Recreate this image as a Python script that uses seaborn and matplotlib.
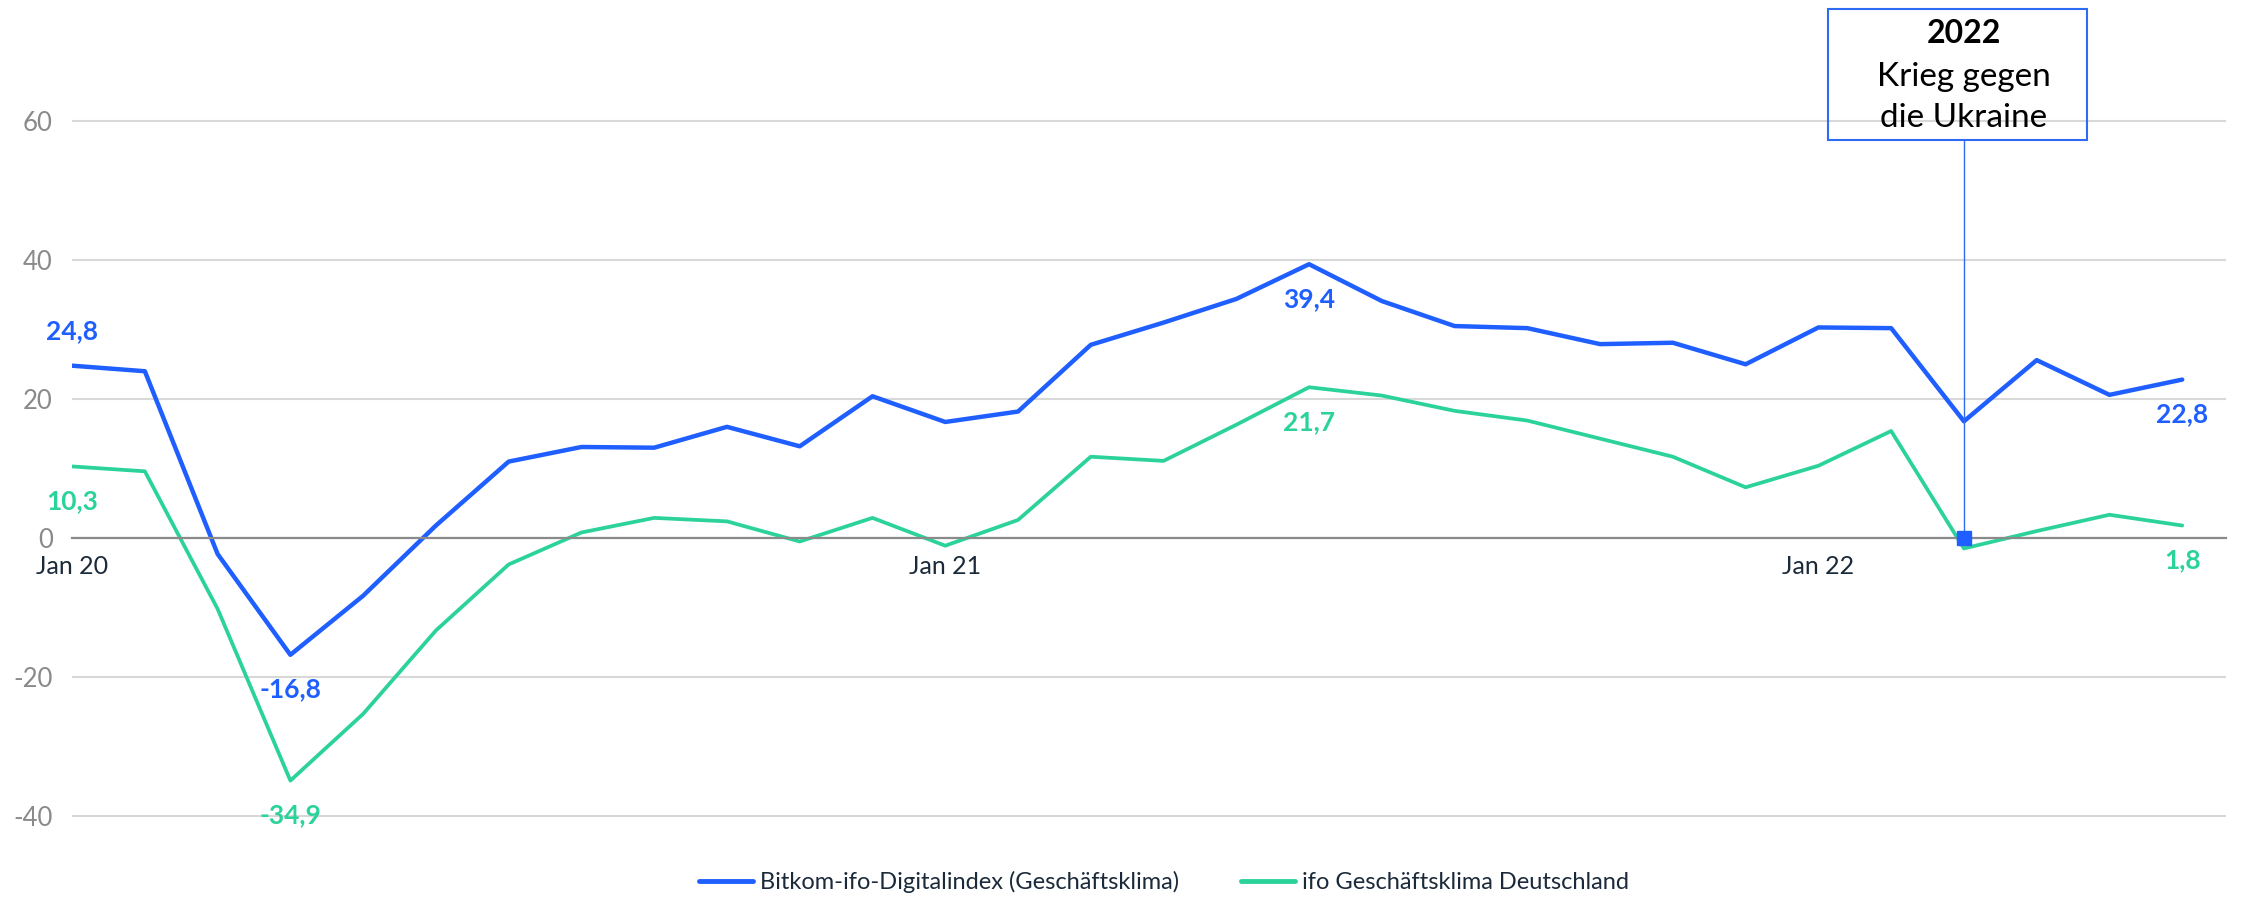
import matplotlib
matplotlib.use("Agg")
import matplotlib.pyplot as plt
import numpy as np
import pandas as pd
import seaborn as sns

# monthly values Jan 2020 - Jun 2022
months = pd.date_range("2020-01-01", periods=30, freq="MS")
bitkom = [24.8, 24.0, -2.3, -16.8, -8.3, 1.8, 11.0, 13.1, 13.0, 16.0,
          13.2, 20.4, 16.7, 18.2, 27.8, 31.0, 34.4, 39.4, 34.1, 30.5,
          30.2, 27.9, 28.1, 25.0, 30.3, 30.2, 16.8, 25.6, 20.6, 22.8]
ifo = [10.3, 9.6, -10.2, -34.9, -25.3, -13.3, -3.8, 0.8, 2.9, 2.4,
       -0.5, 2.9, -1.1, 2.6, 11.7, 11.1, 16.3, 21.7, 20.5, 18.3,
       16.9, 14.3, 11.7, 7.3, 10.4, 15.4, -1.5, 1.0, 3.35, 1.8]
series_names = ["Bitkom-ifo-Digitalindex (Geschäftsklima)", "ifo Geschäftsklima Deutschland"]
colors = ["#1f5fff", "#2bd39a"]
yticks = [-40, -20, 0, 20, 40, 60]
xtick_idx = [0, 12, 24]
xtick_labels = ["Jan 20", "Jan 21", "Jan 22"]

# labelled points: (index, offset direction)
labels_bitkom = [(0, 1), (3, -1), (17, -1), (29, -1)]
labels_ifo = [(0, -1), (3, -1), (17, -1), (29, -1)]

event_idx = 26
event_title = "2022"
event_lines = ["Krieg gegen", "die Ukraine"]

df = pd.DataFrame({
    "t": list(range(len(months))) * 2,
    "value": bitkom + ifo,
    "series": [series_names[0]] * len(bitkom) + [series_names[1]] * len(ifo),
})

sns.set_style("white")
plt.rcParams["font.family"] = ["Lato", "DejaVu Sans"]

fig = plt.figure(figsize=(22.6, 8.97), dpi=100)
ax = fig.add_axes([0.0319, 0.0515, 0.953, 0.9298])

sns.lineplot(data=df, x="t", y="value", hue="series", palette=colors,
             ax=ax, legend=False, linewidth=2.6)
ax.lines[0].set_linewidth(3.2)
ax.lines[1].set_linewidth(2.7)

ax.set_xlim(0, 29.6)
ax.set_ylim(-45, 75)
ax.set_yticks(yticks)
ax.set_yticklabels([str(v) for v in yticks])
ax.set_xticks(xtick_idx)
ax.set_xticklabels(xtick_labels)
ax.set_xlabel("")
ax.set_ylabel("")
ax.grid(axis="y", color="#d8d8d8", linewidth=1.5)
ax.set_axisbelow(True)
for s in ["top", "right", "left"]:
    ax.spines[s].set_visible(False)
ax.spines["bottom"].set_position(("data", 0))
ax.spines["bottom"].set_color("#8a8a8a")
ax.spines["bottom"].set_linewidth(1.6)
ax.tick_params(axis="y", length=0, pad=14, labelsize=18.5, labelcolor="#8a8a8a")
ax.tick_params(axis="x", length=7, width=1.2, color="#8a8a8a", pad=5,
               labelsize=18, labelcolor="#1b2a3a")

for data, lab, col in [(bitkom, labels_bitkom, colors[0]), (ifo, labels_ifo, colors[1])]:
    for i, d in lab:
        ax.annotate(f"{data[i]:.1f}".replace(".", ","), (i, data[i]),
                    xytext=(0, 25 * d), textcoords="offset points",
                    ha="center", va="center", fontsize=19, fontweight="bold",
                    color=col)

# event annotation
box_bottom = 57.3
ax.plot([event_idx, event_idx], [0, box_bottom], color="#2f6cf5", linewidth=1.0)
ax.plot([event_idx], [0], marker="s", markersize=10, color=colors[0], zorder=5)
ax.text(event_idx, 72.6, event_title, ha="center", va="center", fontsize=23,
        fontweight="bold", color="black", clip_on=False)
for k, line in enumerate(event_lines):
    ax.text(event_idx, 66.4 - 5.9 * k, line, ha="center", va="center",
            fontsize=24, color="black", clip_on=False)
ax.add_patch(plt.Rectangle((event_idx - 1.87, box_bottom), 3.56, 18.8,
                           fill=False, edgecolor="#2f6cf5", linewidth=1.5,
                           clip_on=False))

handles = [plt.Line2D([], [], color=c, linewidth=3.5) for c in colors]
fig.legend(handles, series_names, loc="center", bbox_to_anchor=(0.515, 0.0167),
           ncol=2, frameon=False, fontsize=17, handlelength=2.3,
           handletextpad=0.3, columnspacing=2.6, labelcolor="#1b2a3a")

fig.savefig("out.png", dpi=100)
